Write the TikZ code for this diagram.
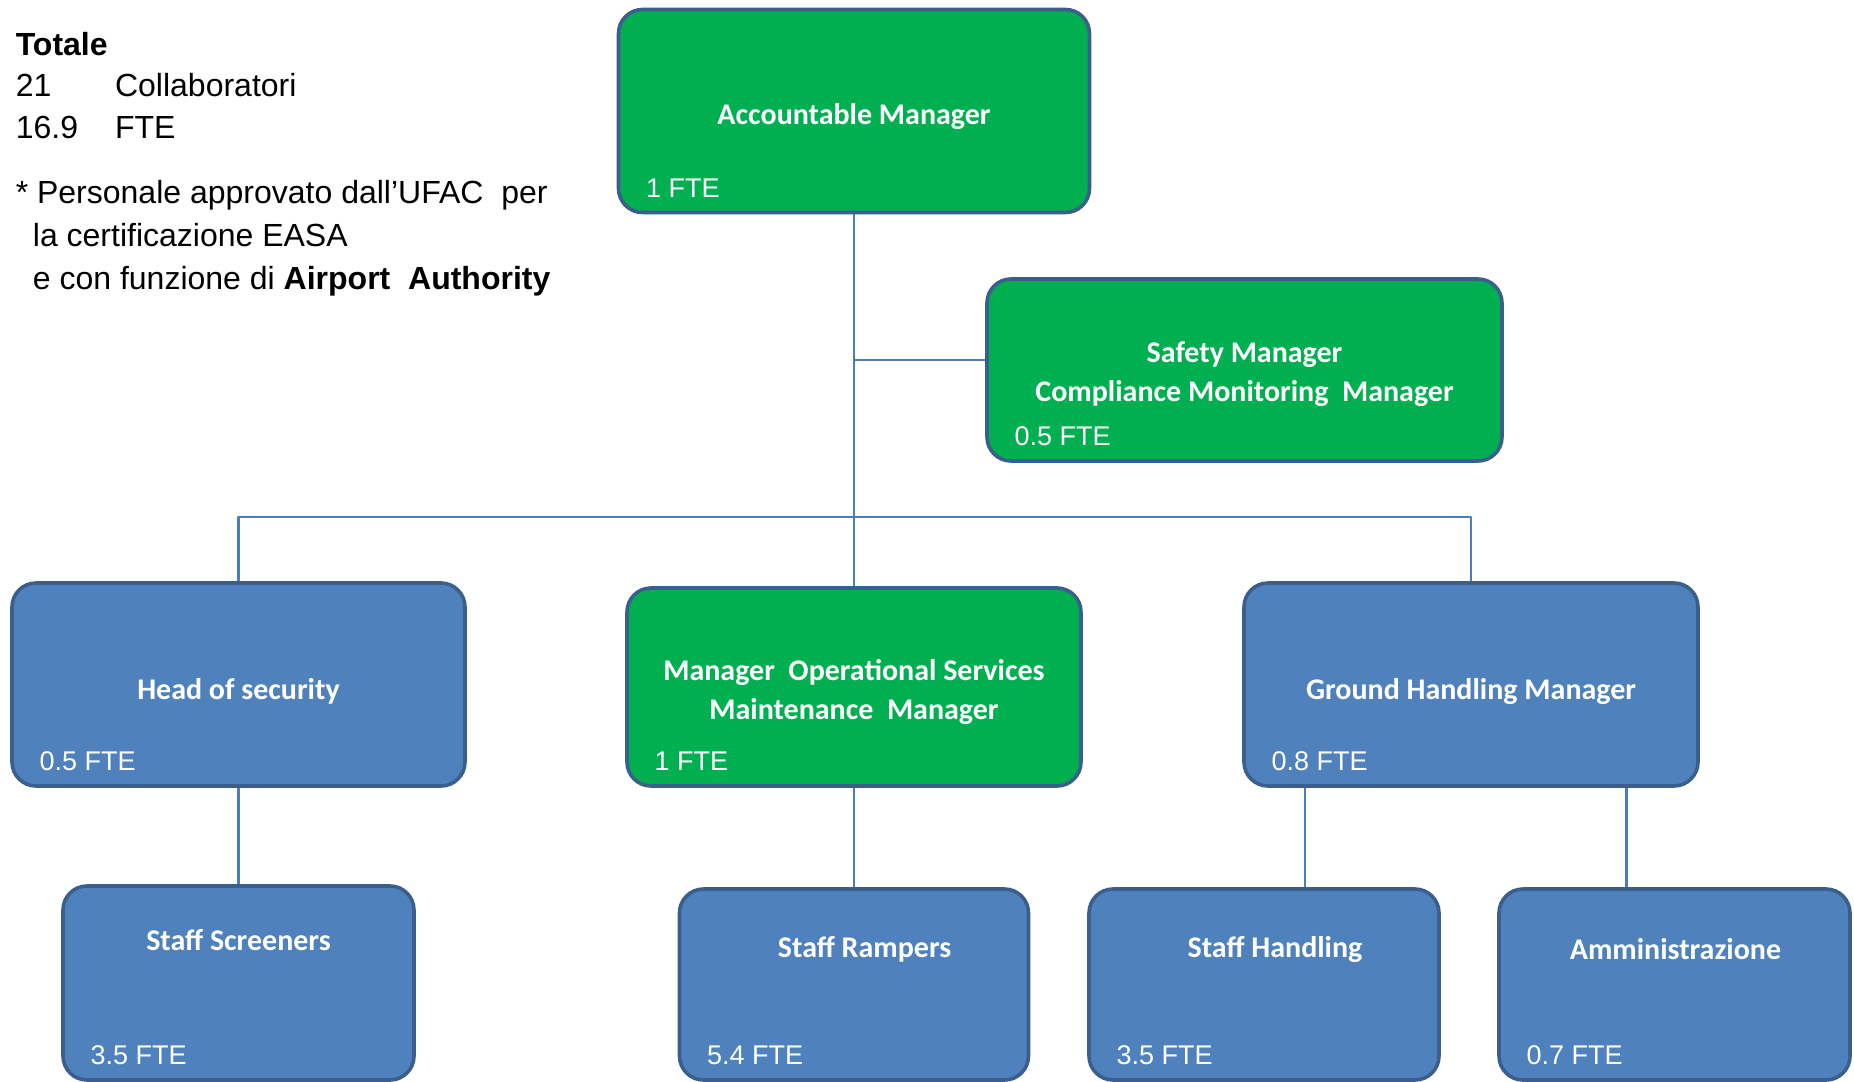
\documentclass[tikz,border=0pt]{standalone}
\usepackage{fontspec}
\setmainfont{Liberation Sans}
\newfontfamily\boxfont{Carlito}
\usetikzlibrary{positioning,calc}
\definecolor{offgreen}{HTML}{00B050}
\definecolor{offblue}{HTML}{4F81BD}
\definecolor{offedge}{HTML}{3B5E8C}
\definecolor{offlink}{HTML}{4A7EBB}
\tikzset{
  box/.style={draw=offedge, line width=1.8pt, rounded corners=12pt, inner sep=0pt},
  greenbox/.style={box, fill=offgreen},
  bluebox/.style={box, fill=offblue},
  title/.style={text=white, font=\boxfont\bfseries\fontsize{15}{19.5}\selectfont, align=center, inner sep=0pt},
  fte/.style={text=white, font=\fontsize{13.5}{16}\selectfont, inner sep=0pt, anchor=base west},
  link/.style={draw=offlink, line width=1.1pt},
  legend/.style={font=\fontsize{16}{19}\selectfont, inner sep=0pt, anchor=base west}
}
\newcommand \myorgbox[8]
{
\node[#2, minimum width=#4, minimum height=#5] (#1) at #3 {};
\node[title] (#1-t) at ([shift={#6}]#1.center) {#7};
\node[fte] (#1-f) at ([shift={(14.5pt,8.6pt)}]#1.south west) {#8};
}
\begin{document}
\begin{tikzpicture}[x=0.5pt, y=-0.5pt, line join=round]
\useasboundingbox (0,0) rectangle (1854,1082);
% legend
\node[legend] (tot)  at (15.4,55)  {\textbf{Totale}};
\node[legend] (n21)  at (15.4,96)  {21};
\node[legend] (col)  at (114.7,96) {Collaboratori};
\node[legend] (n169) at (15.4,138) {16.9};
\node[legend] (fteu) at (114.7,138) {FTE};
\node[legend] (ast)  at (15.4,203) {* Personale approvato dall’UFAC\ \ per};
\node[legend] (cert) at (32.5,246) {la certificazione EASA};
\node[legend] (auth) at (32.5,289) {e con funzione di \textbf{Airport\ \ Authority}};
% boxes
\myorgbox{am}{greenbox}{(854,111)}{235.5pt}{101.5pt}{(0,-3pt)}{Accountable Manager}{1 FTE}
\myorgbox{sm}{greenbox}{(1244.5,370)}{257.5pt}{91pt}{(0,-2.2pt)}{Safety Manager\\Compliance Monitoring\ \ Manager}{0.5 FTE}
\myorgbox{hos}{bluebox}{(238.5,684.5)}{226.5pt}{101.5pt}{(0,-3.4pt)}{Head of security}{0.5 FTE}
\myorgbox{mos}{greenbox}{(854,687)}{227pt}{99pt}{(0,-2.7pt)}{Manager\ \ Operational Services\\Maintenance\ \ Manager}{1 FTE}
\myorgbox{ghm}{bluebox}{(1471,684.5)}{227pt}{101.5pt}{(0,-3.4pt)}{Ground Handling Manager}{0.8 FTE}
\myorgbox{ss}{bluebox}{(238.5,983)}{175.5pt}{97pt}{(0,21.5pt)}{Staff Screeners}{3.5 FTE}
\myorgbox{sr}{bluebox}{(854,984.5)}{174.5pt}{95.5pt}{(5.3pt,17.5pt)}{Staff Rampers}{5.4 FTE}
\myorgbox{sh}{bluebox}{(1264,984.5)}{175pt}{95.5pt}{(5.5pt,17.5pt)}{Staff Handling}{3.5 FTE}
\myorgbox{amm}{bluebox}{(1674.5,984.5)}{175.5pt}{95.5pt}{(0.5pt,17.5pt)}{Amministrazione}{0.7 FTE}
% connectors
\coordinate (bus) at (854,517);
\coordinate (g1) at ($(ghm.south west)!0.138!(ghm.south east)$);
\coordinate (g2) at ($(ghm.south west)!0.84!(ghm.south east)$);
\draw[link] (am) -- (mos);
\draw[link] ([yshift=5pt]sm.west -| am.south) -- ([yshift=5pt]sm.west);
\draw[link] (hos) |- (bus) -| (ghm);
\draw[link] (hos) -- (ss);
\draw[link] (mos) -- (sr);
\draw[link] (g1) -- (g1 |- sh.north);
\draw[link] (g2) -- (g2 |- amm.north);
\end{tikzpicture}
\end{document}
